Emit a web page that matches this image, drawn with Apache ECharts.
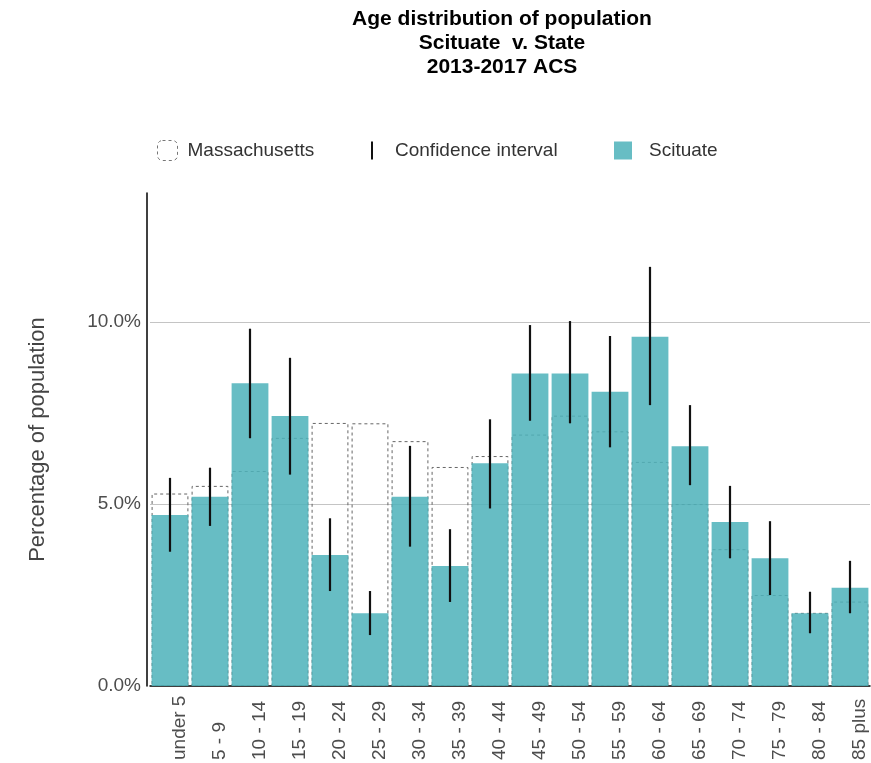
<!DOCTYPE html>
<html>
<head>
<meta charset="utf-8">
<script src="https://cdn.jsdelivr.net/npm/echarts@6/dist/echarts.min.js"></script>
<style>
  html, body { margin: 0; padding: 0; background: #fff; }
  #chart { width: 871px; height: 763px; }
</style>
</head>
<body>
<div id="chart"></div>
<script>
// Age groups (ACS 2013-2017)
const categories = ['under 5', '5 - 9', '10 - 14', '15 - 19', '20 - 24', '25 - 29', '30 - 34', '35 - 39',
  '40 - 44', '45 - 49', '50 - 54', '55 - 59', '60 - 64', '65 - 69', '70 - 74', '75 - 79', '80 - 84', '85 plus'];

// Share of population in each age group, percent
const scituate = [4.70, 5.20, 8.32, 7.42, 3.60, 2.00, 5.20, 3.30, 6.12, 8.59, 8.59, 8.09, 9.60, 6.59, 4.51, 3.51, 2.00, 2.70];
const massachusetts = [5.29, 5.50, 5.91, 6.82, 7.23, 7.22, 6.73, 6.02, 6.32, 6.91, 7.43, 7.00, 6.16, 5.00, 3.76, 2.50, 2.01, 2.32];

// Scituate confidence interval bounds, percent
const ciLow = [3.69, 4.40, 6.81, 5.81, 2.61, 1.40, 3.83, 2.31, 4.88, 7.29, 7.22, 6.56, 7.72, 5.52, 3.51, 2.50, 1.45, 2.00];
const ciHigh = [5.72, 6.00, 9.82, 9.02, 4.61, 2.61, 6.60, 4.31, 7.33, 9.92, 10.03, 9.62, 11.52, 7.72, 5.50, 4.53, 2.59, 3.44];

// Y axis tick values
const yTicks = [0, 5, 10];

const FONT = '"Liberation Sans", Arial, Helvetica, sans-serif';
const TEAL = 'rgba(78, 178, 186, 0.86)';

const chart = echarts.init(document.getElementById('chart'), null, { renderer: 'canvas' });

const ciData = categories.map((c, i) => [i, ciLow[i], ciHigh[i]]);

const option = {
  backgroundColor: '#ffffff',
  animation: false,
  textStyle: { fontFamily: FONT },
  title: {
    text: 'Age distribution of population\nScituate  v. State\n2013-2017 ACS',
    left: 497,
    top: 2,
    textAlign: 'center',
    textStyle: { fontFamily: FONT, fontSize: 21, fontWeight: 'bold', color: '#000', lineHeight: 24 }
  },
  legend: [
    {
      data: [{ name: 'Massachusetts' }],
      left: 157, top: 140, padding: 0,
      itemWidth: 20, itemHeight: 20,
      itemStyle: { color: 'rgba(0,0,0,0)', borderColor: '#777', borderWidth: 1, borderType: [3, 3] },
      textStyle: { fontFamily: FONT, fontSize: 19, color: '#333', padding: [0, 0, 0, 5] },
      selectedMode: false
    },
    {
      data: [{ name: 'Confidence interval', icon: 'rect' }],
      left: 371, top: 141, padding: 0,
      itemWidth: 2, itemHeight: 18,
      itemStyle: { color: '#111' },
      textStyle: { fontFamily: FONT, fontSize: 19, color: '#333', padding: [0, 0, 0, 17] },
      selectedMode: false
    },
    {
      data: [{ name: 'Scituate', icon: 'rect' }],
      left: 614, top: 141, padding: 0,
      itemWidth: 18, itemHeight: 18,
      itemStyle: { color: TEAL },
      textStyle: { fontFamily: FONT, fontSize: 19, color: '#333', padding: [0, 0, 0, 12] },
      selectedMode: false
    }
  ],
  grid: { left: 150, right: 1, top: 193, bottom: 77, containLabel: false },
  xAxis: {
    type: 'category',
    data: categories,
    boundaryGap: true,
    axisLine: { show: true, lineStyle: { color: '#000', width: 1.5 } },
    axisTick: { show: false },
    axisLabel: {
      rotate: 90,
      interval: 0,
      margin: 74,
      align: 'left',
      verticalAlign: 'top',
      fontFamily: FONT,
      fontSize: 19,
      color: '#4d4d4d'
    },
    splitLine: { show: false }
  },
  yAxis: {
    type: 'value',
    min: 0,
    max: 13.55,
    interval: 5,
    offset: 3,
    name: 'Percentage of population',
    nameLocation: 'middle',
    nameRotate: 90,
    nameGap: 98,
    nameTextStyle: { fontFamily: FONT, fontSize: 22, color: '#444' },
    axisLine: { show: true, lineStyle: { color: '#000', width: 1.5 } },
    axisTick: { show: false },
    axisLabel: {
      margin: 6,
      fontFamily: FONT,
      fontSize: 19,
      color: '#4d4d4d',
      showMaxLabel: false,
      formatter: v => (yTicks.indexOf(v) >= 0 ? v.toFixed(1) + '%' : '')
    },
    splitLine: { show: true, showMinLine: false, showMaxLine: false, lineStyle: { color: '#c4c4c4', width: 1 } }
  },
  series: [
    {
      name: 'Massachusetts',
      type: 'bar',
      data: massachusetts,
      barCategoryGap: '8%',
      itemStyle: { color: 'rgba(0,0,0,0)', borderColor: '#666', borderWidth: 1, borderType: [3, 3] },
      z: 2
    },
    {
      name: 'Scituate',
      type: 'bar',
      data: scituate,
      barGap: '-100%',
      barCategoryGap: '8%',
      itemStyle: { color: TEAL },
      z: 3
    },
    {
      name: 'Confidence interval',
      type: 'custom',
      data: ciData,
      encode: { x: 0, y: [1, 2] },
      z: 5,
      renderItem: function (params, api) {
        const i = api.value(0);
        const lo = api.coord([i, api.value(1)]);
        const hi = api.coord([i, api.value(2)]);
        return {
          type: 'line',
          shape: { x1: lo[0], y1: lo[1], x2: hi[0], y2: hi[1] },
          style: { stroke: '#111', lineWidth: 2.2 }
        };
      }
    }
  ]
};

chart.setOption(option);
</script>
</body>
</html>
